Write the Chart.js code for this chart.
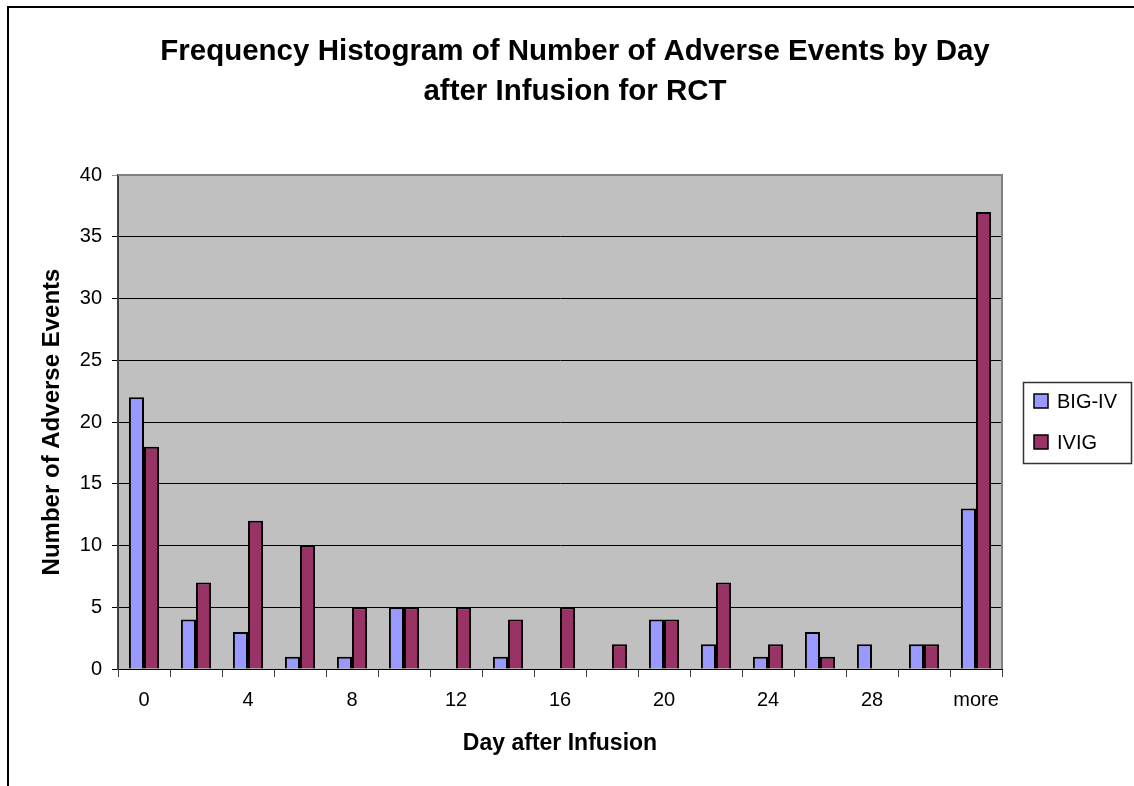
<!DOCTYPE html>
<html>
<head>
<meta charset="utf-8">
<title>Frequency Histogram of Number of Adverse Events</title>
<script src="https://cdn.jsdelivr.net/npm/chart.js@4.4.1/dist/chart.umd.min.js"></script>
<style>
  html, body { margin: 0; padding: 0; background: #fff; }
  canvas { display: block; }
</style>
</head>
<body>
<canvas id="histChart" width="1134" height="786"></canvas>
<script>
// bins (day after infusion), every other one gets a tick label
const categories = ['0', '2', '4', '6', '8', '10', '12', '14', '16', '18', '20', '22', '24', '26', '28', '30', 'more'];
const bigIv = [22, 4, 3, 1, 1, 5, 0, 1, 0, 0, 4, 2, 1, 3, 2, 2, 13];
const ivig = [18, 7, 12, 10, 5, 5, 5, 4, 5, 2, 4, 7, 2, 1, 0, 2, 37];
const seriesNames = ['BIG-IV', 'IVIG'];
const seriesColors = ['#9999FF', '#993366'];
const titleLines = ['Frequency Histogram of Number of Adverse Events by Day', 'after Infusion for RCT'];

const FONT = "'Liberation Sans', Arial, Helvetica, sans-serif";

const framePlugin = {
  id: 'frame',
  beforeDraw(chart) {
    const { ctx, chartArea } = chart;
    ctx.save();
    ctx.fillStyle = '#ffffff';
    ctx.fillRect(0, 0, chart.width, chart.height);
    // plot background
    ctx.fillStyle = '#C0C0C0';
    ctx.fillRect(chartArea.left, chartArea.top, chartArea.right - chartArea.left, chartArea.bottom - chartArea.top);
    ctx.restore();
  },
  beforeDatasetsDraw(chart) {
    const { ctx, chartArea } = chart;
    ctx.save();
    ctx.strokeStyle = '#808080';
    ctx.lineWidth = 2;
    ctx.beginPath();
    ctx.moveTo(chartArea.left, chartArea.top);
    ctx.lineTo(chartArea.right, chartArea.top);
    ctx.lineTo(chartArea.right, chartArea.bottom);
    ctx.stroke();
    ctx.restore();
  },
  afterDraw(chart) {
    const ctx = chart.ctx;
    ctx.save();
    // outer chart border, runs off the right and bottom edges
    ctx.strokeStyle = '#000';
    ctx.lineWidth = 2;
    ctx.strokeRect(8, 7, 2000, 2000);

    // title
    ctx.fillStyle = '#000';
    ctx.font = 'bold 29.5px ' + FONT;
    ctx.textAlign = 'center';
    ctx.textBaseline = 'middle';
    ctx.fillText(titleLines[0], 575, 52);
    ctx.fillText(titleLines[1], 575, 92);

    // legend
    ctx.strokeStyle = '#333';
    ctx.lineWidth = 1.5;
    ctx.strokeRect(1023.5, 382.5, 108, 81);
    ctx.font = '20px ' + FONT;
    ctx.textAlign = 'left';
    seriesNames.forEach((name, i) => {
      const y = 401 + i * 41;
      ctx.fillStyle = seriesColors[i];
      ctx.fillRect(1034, y - 7, 14, 14);
      ctx.strokeStyle = '#000';
      ctx.strokeRect(1034, y - 7, 14, 14);
      ctx.fillStyle = '#000';
      ctx.fillText(name, 1057, y + 1);
    });
    ctx.restore();
  }
};

const ctx = document.getElementById('histChart').getContext('2d');
new Chart(ctx, {
  type: 'bar',
  data: {
    labels: categories,
    datasets: [
      {
        label: seriesNames[0],
        data: bigIv,
        backgroundColor: seriesColors[0],
        borderColor: '#000',
        borderWidth: 2
      },
      {
        label: seriesNames[1],
        data: ivig,
        backgroundColor: seriesColors[1],
        borderColor: '#000',
        borderWidth: 2
      }
    ]
  },
  options: {
    responsive: false,
    animation: false,
    devicePixelRatio: 1,
    layout: { padding: { top: 175, right: 132, left: 0, bottom: 0 } },
    datasets: { bar: { categoryPercentage: 0.58, barPercentage: 1 } },
    plugins: {
      legend: { display: false },
      title: { display: false },
      tooltip: { enabled: false }
    },
    scales: {
      x: {
        afterFit(scale) { scale.height = 117; },
        grid: { drawOnChartArea: false, drawTicks: true, tickLength: 8, color: '#404040', offset: true },
        border: { color: '#000', width: 1 },
        ticks: {
          autoSkip: false,
          maxRotation: 0,
          padding: 11,
          color: '#000',
          font: { family: FONT, size: 20 },
          callback: (val, index) => (index % 2 === 0 ? categories[index] : '')
        },
        title: {
          display: true,
          text: 'Day after Infusion',
          color: '#000',
          font: { family: FONT, size: 23, weight: 'bold' },
          padding: { top: 0, bottom: 29 }
        }
      },
      y: {
        min: 0,
        max: 40,
        afterFit(scale) { scale.width = 118; },
        grid: {
          color: (c) => (c.tick && c.tick.value === 40 ? '#909090' : '#000'),
          lineWidth: 1,
          tickLength: 6
        },
        border: { color: '#404040', width: 2 },
        ticks: {
          stepSize: 5,
          padding: 10,
          color: '#000',
          font: { family: FONT, size: 20 }
        },
        title: {
          display: true,
          text: 'Number of Adverse Events',
          color: '#000',
          font: { family: FONT, size: 24, weight: 'bold' },
          padding: { top: 38, bottom: 0 }
        }
      }
    }
  },
  plugins: [framePlugin]
});
</script>
</body>
</html>
